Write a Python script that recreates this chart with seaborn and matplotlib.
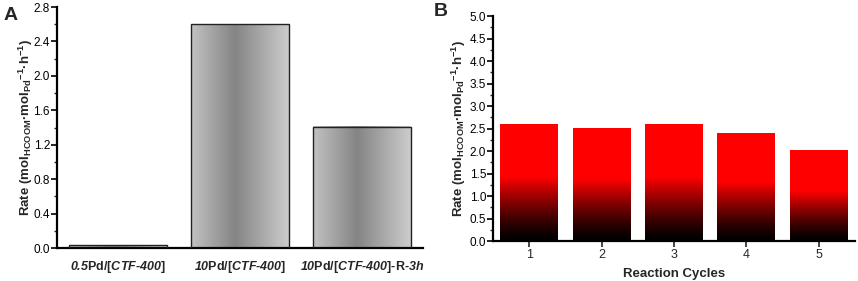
import numpy as np
import pandas as pd
import matplotlib
matplotlib.use("Agg")
import matplotlib.pyplot as plt
import seaborn as sns
from matplotlib.ticker import MultipleLocator

# data
catalysts = ["0.5Pd/[CTF-400]", "10Pd/[CTF-400]", "10Pd/[CTF-400]-R-3h"]
# \mathrm -> bold italic, \mathbf -> bold upright (see mathtext settings below)
catalyst_labels = [
    r"$\mathrm{0.5}\mathbf{Pd/[}\mathrm{CTF‐400}\mathbf{]}$",
    r"$\mathrm{10}\mathbf{Pd/[}\mathrm{CTF‐400}\mathbf{]}$",
    r"$\mathrm{10}\mathbf{Pd/[}\mathrm{CTF‐400}\mathbf{]‐R‐}\mathrm{3h}$",
]
catalyst_rates = [0.03, 2.60, 1.41]

cycles = ["1", "2", "3", "4", "5"]
cycle_rates = [2.60, 2.50, 2.60, 2.39, 2.01]

sns.set_style("ticks")
plt.rcParams["font.family"] = ["Liberation Sans", "DejaVu Sans"]
plt.rcParams["mathtext.fontset"] = "custom"
plt.rcParams["mathtext.rm"] = "Liberation Sans:italic:bold"
plt.rcParams["mathtext.it"] = "Liberation Sans:italic:bold"
plt.rcParams["mathtext.bf"] = "Liberation Sans:bold"

ylabel = r"Rate (mol$_{\mathbf{HCOOM}}$·mol$_{\mathbf{Pd}}$$^{\mathbf{-1}}$·h$^{\mathbf{-1}}$)"

fig = plt.figure(figsize=(8.58, 2.81), dpi=100)
axA = fig.add_axes([0.0664, 0.1174, 0.4266, 0.8576])
axB = fig.add_axes([0.5746, 0.1423, 0.4219, 0.8007])


def style_axis(ax):
    sns.despine(ax=ax)
    for s in ["left", "bottom"]:
        ax.spines[s].set_linewidth(1.6)
        ax.spines[s].set_color("black")
    ax.tick_params(axis="y", which="major", direction="out", length=4, width=1.2,
                   labelsize=8.5, pad=1, colors="black")
    ax.tick_params(axis="y", which="minor", direction="out", length=2.5, width=1.0)


# panel A: gray bars with horizontal shading
sns.barplot(x=catalysts, y=catalyst_rates, ax=axA, width=0.8, color="0.7",
            edgecolor="#222222", linewidth=1.0)
t = np.linspace(0, 1, 200)
shade = np.interp(t, [0, 0.45, 1], [0.76, 0.52, 0.80])
grayimg = np.tile(shade, (2, 1))
for p in axA.patches:
    x0, y0, w, h = p.get_x(), p.get_y(), p.get_width(), p.get_height()
    axA.imshow(grayimg, cmap="gray", vmin=0, vmax=1, extent=[x0, x0 + w, y0, y0 + h],
               aspect="auto", origin="lower", interpolation="bilinear", zorder=2)
    p.set_facecolor("none")
    p.set_zorder(3)
axA.set_xlim(-0.5, 2.5)
axA.set_ylim(0, 2.8)
axA.yaxis.set_major_locator(MultipleLocator(0.4))
axA.yaxis.set_minor_locator(MultipleLocator(0.2))
axA.set_xticks(range(len(catalysts)))
axA.set_xticklabels(catalyst_labels, fontsize=9)
axA.tick_params(axis="x", length=0, pad=8)
style_axis(axA)
axA.set_ylabel(ylabel, fontsize=9.5, fontweight="bold", labelpad=-1)
axA.set_xlabel("")

# panel B: red-to-black vertical gradient bars
sns.barplot(x=cycles, y=cycle_rates, ax=axB, width=0.8, color="red", linewidth=0)
red = np.array([1.0, 0.0, 0.0])
for p in axB.patches:
    x0, y0, w, h = p.get_x(), p.get_y(), p.get_width(), p.get_height()
    v = np.linspace(0, 1, 200)
    f = np.clip(v / 0.55, 0, 1) ** 1.3
    img = (f[:, None] * red[None, :])[:, None, :].repeat(2, axis=1)
    axB.imshow(img, extent=[x0, x0 + w, y0, y0 + h], aspect="auto", origin="lower",
               interpolation="bilinear", zorder=2)
    p.set_visible(False)
axB.set_xlim(-0.5, 4.5)
axB.set_ylim(0, 5.0)
axB.yaxis.set_major_locator(MultipleLocator(0.5))
axB.yaxis.set_minor_locator(MultipleLocator(0.25))
style_axis(axB)
axB.tick_params(axis="x", direction="out", length=4, width=1.2, labelsize=9, pad=1.5)
axB.set_ylabel(ylabel, fontsize=9.5, fontweight="bold", labelpad=1)
axB.set_xlabel("Reaction Cycles", fontsize=9.5, fontweight="bold", labelpad=5)

fig.text(0.004, 0.975, "A", fontsize=14, fontweight="bold", va="top", ha="left")
fig.text(0.506, 0.99, "B", fontsize=14, fontweight="bold", va="top", ha="left")

fig.savefig("out.png", dpi=100)
